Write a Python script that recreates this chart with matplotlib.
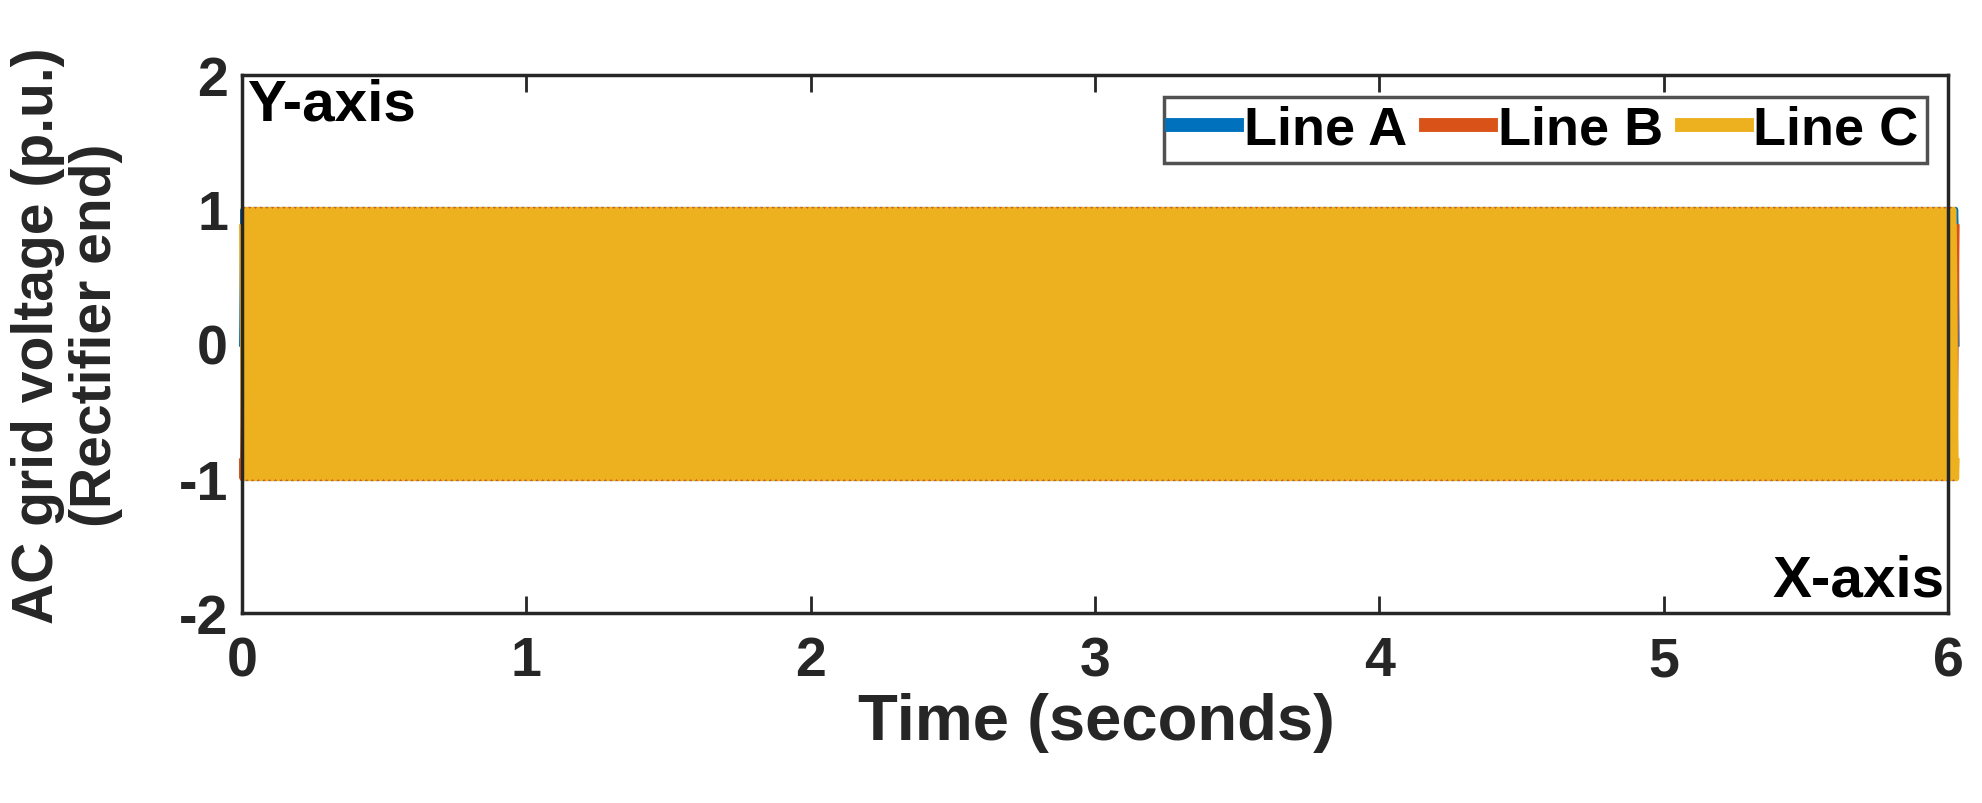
import numpy as np
import matplotlib
matplotlib.use("Agg")
import matplotlib.pyplot as plt

# one period of each phase, sampled every 30 degrees (p.u.)
phase_a = [0.0, 0.5, 0.87, 1.0, 0.87, 0.5, 0.0, -0.5, -0.87, -1.0, -0.87, -0.5]
phase_b = [-0.87, -1.0, -0.87, -0.5, 0.0, 0.5, 0.87, 1.0, 0.87, 0.5, 0.0, -0.5]
phase_c = [0.87, 0.5, 0.0, -0.5, -0.87, -1.0, -0.87, -0.5, 0.0, 0.5, 0.87, 1.0]
series_names = ["Line A", "Line B", "Line C"]
grid_freq_hz = 50
t_end = 6.03
x_ticks = [0, 1, 2, 3, 4, 5, 6]
y_ticks = [-2, -1, 0, 1, 2]

colors = ["#0072BD", "#D95319", "#EDB120"]
ink = "#262626"

plt.rcParams["font.family"] = ["Liberation Sans", "DejaVu Sans"]
plt.rcParams["font.weight"] = "bold"
plt.rcParams["axes.unicode_minus"] = False

n_cycles = int(np.ceil(t_end * grid_freq_hz)) + 1
n_per = len(phase_a)
t = np.arange(n_cycles * n_per) / (n_per * grid_freq_hz)
keep = t <= t_end

fig = plt.figure(figsize=(19.82, 8.04), dpi=100)
ax = fig.add_axes([0.122, 0.2363, 0.861, 0.6692])

for name, cyc, col in zip(series_names, [phase_a, phase_b, phase_c], colors):
    y = np.tile(cyc, n_cycles)
    ax.plot(t[keep], y[keep], color=col, lw=4, label=name, clip_on=False)

ax.set_xlim(0, 6)
ax.set_ylim(-2, 2)
ax.set_xticks(x_ticks)
ax.set_yticks(y_ticks)
ax.tick_params(direction="in", length=12, width=2, colors=ink,
               labelsize=40, top=True, right=True, pad=10)
ax.tick_params(axis="x", pad=16)
for s in ax.spines.values():
    s.set_linewidth(2.5)
    s.set_color(ink)

fig.text(0.553, 0.1007, "Time (seconds)", fontsize=47, fontweight="bold",
         color=ink, ha="center", va="center")
# two-line y label, placed line by line
fig.text(0.019, 0.583, "AC grid voltage (p.u.)", fontsize=41,
         fontweight="bold", color=ink, ha="center", va="center", rotation=90)
fig.text(0.0485, 0.583, "(Rectifier end)", fontsize=41,
         fontweight="bold", color=ink, ha="center", va="center", rotation=90)

ax.text(0.003, 0.995, "Y-axis", transform=ax.transAxes, fontsize=42,
        fontweight="bold", ha="left", va="top")
ax.text(0.998, 0.01, "X-axis", transform=ax.transAxes, fontsize=42,
        fontweight="bold", ha="right", va="bottom")

leg = ax.legend(loc="upper right", ncol=3, fontsize=39, frameon=True,
                fancybox=False, edgecolor=ink, handlelength=1.2,
                handletextpad=0.12, columnspacing=0.35, borderpad=0.15,
                borderaxespad=0.4)
leg.get_frame().set_linewidth(2.5)
for h in leg.get_lines():
    h.set_linewidth(10)

fig.savefig("out.png", dpi=100)
